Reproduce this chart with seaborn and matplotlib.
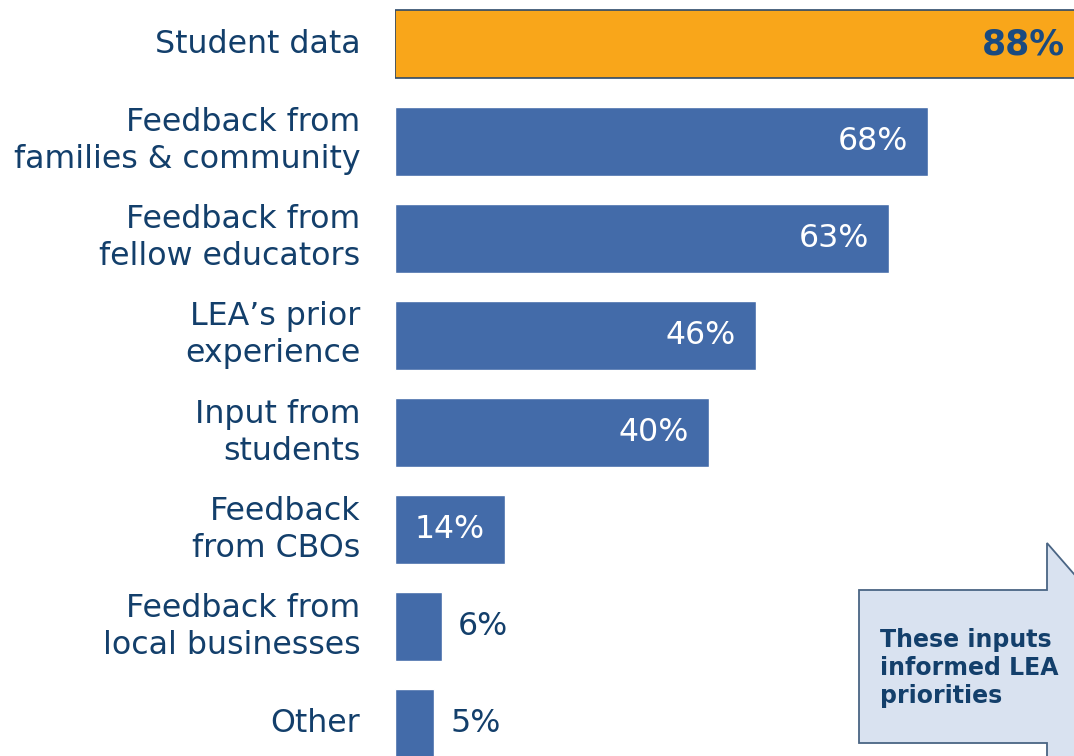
import numpy as np
import pandas as pd
import matplotlib
matplotlib.use("Agg")
import matplotlib.pyplot as plt
import seaborn as sns
from matplotlib.patches import Polygon

# data
categories = ["Student data", "Feedback from\nfamilies & community", "Feedback from\nfellow educators",
              "LEA\u2019s prior\nexperience", "Input from\nstudents", "Feedback\nfrom CBOs",
              "Feedback from\nlocal businesses", "Other"]
values = [88, 68, 63, 46, 40, 14, 6, 5]
highlight = ["yes", "no", "no", "no", "no", "no", "no", "no"]

navy = "#133F6B"
blue = "#436BA9"
orange = "#F9A61A"

df = pd.DataFrame({"input": categories, "pct": values, "hl": highlight})

sns.set_style("white")
plt.rcParams['font.family'] = ['DejaVu Sans']

fig = plt.figure(figsize=(10.74, 7.56), dpi=100)
ax = fig.add_axes([395/1074, 0, 1 - 395/1074, 1])

sns.barplot(data=df, y="input", x="pct", hue="hl", palette={"yes": orange, "no": blue},
            orient="h", width=0.71, dodge=False, legend=False, ax=ax, saturation=1)

# dark outline on the highlighted bar
for p in ax.patches:
    if np.isclose(p.get_width(), values[0]):
        p.set_edgecolor("#2E4A6B")
        p.set_linewidth(1.2)

ax.set_xlim(0, 86.6)
ax.set_ylim(7.33, -0.453)
sns.despine(ax=ax, left=True, bottom=True, top=True, right=True)
ax.set_xticks([])
ax.set_xlabel("")
ax.set_ylabel("")
ax.tick_params(axis="y", length=0, pad=25, labelsize=22.8, labelcolor=navy)
for t in ax.get_yticklabels():
    t.set_linespacing(1.25)
    t.set_verticalalignment("center")

# value labels
for i, v in enumerate(values):
    if i == 0:
        ax.annotate(f"{v}%", (85.5, i), ha="right", va="center", fontsize=25,
                    fontweight="bold", color="#1A4A80")
    elif v >= 10:
        ax.annotate(f"{v}%", (v, i), xytext=(-14.5, 0), textcoords="offset points",
                    ha="right", va="center", fontsize=22.8, color="white")
    else:
        ax.annotate(f"{v}%", (v, i), xytext=(11.5, 0), textcoords="offset points",
                    ha="left", va="center", fontsize=22.8, color=navy)

# callout arrow box (figure pixel coords, y from top)
W, H = 1074, 756
pts = [(859, 590), (1047, 590), (1047, 543), (1154, 666), (1047, 790), (1047, 743), (859, 743)]
poly = Polygon([(x / W, 1 - y / H) for x, y in pts], closed=True, transform=fig.transFigure,
               facecolor="#D9E2F0", edgecolor="#4A6584", linewidth=1.3, clip_on=False)
fig.patches.append(poly)
fig.text(880 / W, 1 - 628 / H, "These inputs\ninformed LEA\npriorities", ha="left", va="top",
         fontsize=17, fontweight="bold", color=navy, linespacing=1.2)

fig.savefig("out.png", dpi=100)
